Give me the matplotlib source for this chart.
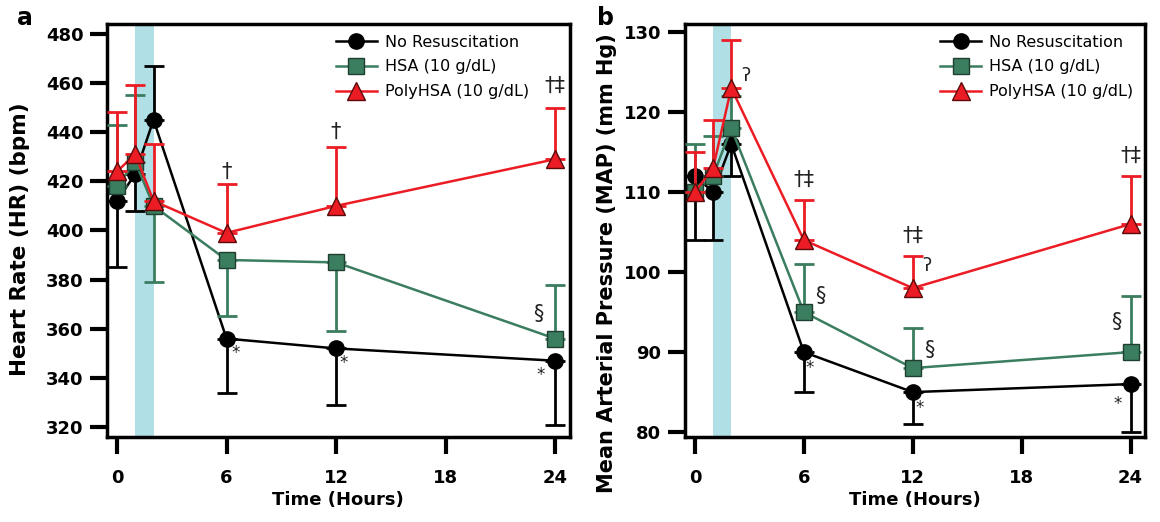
import matplotlib
matplotlib.use("Agg")
import matplotlib.pyplot as plt
import numpy as np

plt.rcParams['font.family'] = ['DejaVu Sans']

hours = [0, 1, 2, 6, 12, 24]
groups = ['No Resuscitation', 'HSA (10 g/dL)', 'PolyHSA (10 g/dL)']

# heart rate (bpm)
hr_none = [412, 423, 445, 356, 352, 347]
hr_none_lo = [27, 15, 0, 22, 23, 26]
hr_none_hi = [0, 0, 22, 0, 0, 0]
hr_hsa = [418, 428, 410, 388, 387, 356]
hr_hsa_lo = [0, 0, 31, 23, 28, 0]
hr_hsa_hi = [25, 27, 0, 0, 0, 22]
hr_poly = [424, 431, 412, 399, 410, 429]
hr_poly_lo = [0, 0, 0, 0, 0, 0]
hr_poly_hi = [24, 28, 23, 20, 24, 21]

# mean arterial pressure (mm Hg)
map_none = [112, 110, 116, 90, 85, 86]
map_none_lo = [8, 6, 4, 5, 4, 6]
map_none_hi = [0, 0, 0, 0, 0, 0]
map_hsa = [110, 112, 118, 95, 88, 90]
map_hsa_lo = [0, 0, 0, 0, 0, 0]
map_hsa_hi = [6, 5, 4, 6, 5, 7]
map_poly = [110, 113, 123, 104, 98, 106]
map_poly_lo = [0, 0, 0, 0, 0, 0]
map_poly_hi = [5, 6, 6, 5, 4, 6]

colors = ['black', '#3b7d5f', '#ec1c24']
markers = ['o', 's', '^']
edges = ['black', '#1f3f30', '#5a0a0a']

fig = plt.figure(figsize=(11.6, 5.22), dpi=100)
ax_a = fig.add_axes([0.0922, 0.163, 0.399, 0.791])
ax_b = fig.add_axes([0.5905, 0.163, 0.3966, 0.791])


def draw(ax, series, ylim, yticks, ylabel, ylabel_size, ylabel_xy, leg_x):
    ax.axvspan(1, 2, color='#b0e0e6', lw=0, zorder=0)
    for i, (vals, lo, hi) in enumerate(series):
        ax.errorbar(hours, vals, yerr=[lo, hi], fmt='none', ecolor=colors[i],
                    elinewidth=2, capsize=7, capthick=2, zorder=2 + i)
        ax.plot(hours, vals, color=colors[i], lw=1.8, marker=markers[i],
                ms=12.5 if i == 2 else 11, mfc=colors[i], mec=edges[i], mew=1,
                label=groups[i], zorder=3 + i)
    ax.set_xlim(-0.55, 24.8)
    ax.set_ylim(*ylim)
    ax.set_xticks([0, 6, 12, 18, 24])
    ax.set_yticks(yticks)
    for s in ax.spines.values():
        s.set_linewidth(2.5)
    ax.tick_params(axis='y', direction='out', length=12, width=3, labelsize=13, pad=5)
    ax.tick_params(axis='x', direction='out', length=12, width=3, labelsize=13, pad=11)
    for t in ax.get_xticklabels() + ax.get_yticklabels():
        t.set_fontweight('bold')
    ax.set_xlabel('Time (Hours)', fontsize=13, fontweight='bold', labelpad=3)
    ax.set_ylabel(ylabel, fontsize=ylabel_size, fontweight='bold')
    ax.yaxis.set_label_coords(*ylabel_xy)
    ax.legend(loc='upper left', bbox_to_anchor=(leg_x, 0.99), frameon=False,
              fontsize=11.5, handlelength=2.6, handletextpad=0.5,
              borderaxespad=0.0, labelspacing=0.62)


draw(ax_a, [(hr_none, hr_none_lo, hr_none_hi), (hr_hsa, hr_hsa_lo, hr_hsa_hi),
            (hr_poly, hr_poly_lo, hr_poly_hi)],
     (316, 484), range(320, 481, 20), 'Heart Rate (HR) (bpm)', 15.5,
     (-0.166, 0.48), 0.48)
draw(ax_b, [(map_none, map_none_lo, map_none_hi), (map_hsa, map_hsa_lo, map_hsa_hi),
            (map_poly, map_poly_lo, map_poly_hi)],
     (79.4, 131), range(80, 131, 10), 'Mean Arterial Pressure (MAP) (mm Hg)', 15,
     (-0.148, 0.42), 0.54)

sym = dict(fontsize=15, color='#222222', ha='center', va='center')
star = dict(fontsize=12, color='#222222', ha='center', va='center')

# panel a symbols
ax_a.text(6, 424, '†', **sym)
ax_a.text(12, 440, '†', **sym)
ax_a.text(24, 459, '†‡', **sym)
ax_a.text(23.1, 366, '§', **sym)
ax_a.text(6.5, 350, '*', **star)
ax_a.text(12.4, 346, '*', **star)
ax_a.text(23.2, 341, '*', **star)

# panel b symbols
ax_b.text(2.8, 124.5, 'ʔ', fontsize=13, color='#222222', ha='center', va='center')
ax_b.text(12.8, 100.8, 'ʔ', fontsize=13, color='#222222', ha='center', va='center')
ax_b.text(6, 111.5, '†‡', **sym)
ax_b.text(12, 104.5, '†‡', **sym)
ax_b.text(24, 114.5, '†‡', **sym)
ax_b.text(6.9, 97, '§', **sym)
ax_b.text(12.9, 90.2, '§', **sym)
ax_b.text(23.2, 93.8, '§', **sym)
ax_b.text(6.3, 88, '*', **star)
ax_b.text(12.4, 83, '*', **star)
ax_b.text(23.3, 83.5, '*', **star)

fig.text(0.015, 0.965, 'a', fontsize=17, fontweight='bold', va='center')
fig.text(0.515, 0.965, 'b', fontsize=17, fontweight='bold', va='center')

fig.savefig('out.png', dpi=100)
